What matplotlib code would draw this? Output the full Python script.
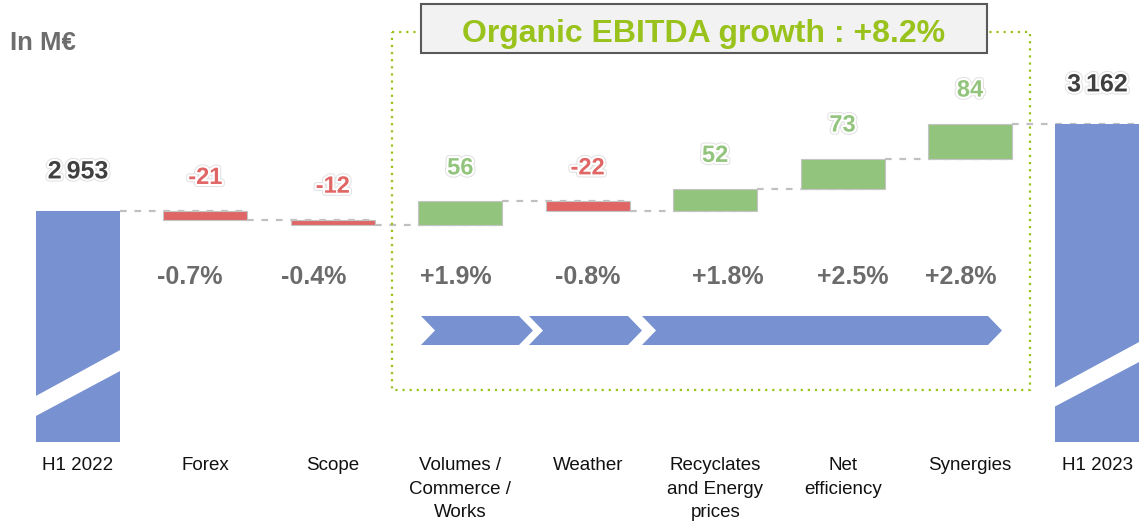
import matplotlib
matplotlib.use("Agg")
import matplotlib.pyplot as plt
import matplotlib.patheffects as pe
from matplotlib.patches import Polygon, Rectangle
from matplotlib.transforms import Affine2D

# data
categories = ["H1 2022", "Forex", "Scope", "Volumes /\nCommerce /\nWorks", "Weather",
              "Recyclates\nand Energy\nprices", "Net\nefficiency", "Synergies", "H1 2023"]
start_total = 2953
deltas = [-21, -12, 56, -22, 52, 73, 84]
end_total = 3162
total_labels = ["2\u2009953", "3\u2009162"]
pct_labels = ["-0.7%", "-0.4%", "+1.9%", "-0.8%", "+1.8%", "+2.5%", "+2.8%"]
title = "Organic EBITDA growth : +8.2%"
unit = "In M\u20ac"

# style
BLUE = "#7891d0"
RED = "#e06666"
GREEN = "#93c47d"
LIME = "#99c31c"
W, H = 1139, 522
FONT = "Liberation Sans"

fig = plt.figure(figsize=(W / 100, H / 100), dpi=100)
ax = fig.add_axes([0, 0, 1, 1])
ax.set_xlim(-0.612, 8.326)
ax.set_ylim(2206, 3460)
ax.axis("off")

# image-pixel transform (y down)
pxT = Affine2D().scale(1 / W, -1 / H).translate(0, 1) + fig.transFigure

base = 2398
bw = 0.66
glow = [pe.Stroke(linewidth=4.5, foreground="#e2e2e2"),
        pe.Stroke(linewidth=3, foreground="white"), pe.Normal()]

# running totals
levels = [start_total]
for d in deltas:
    levels.append(levels[-1] + d)

# total bars
for i, v in [(0, start_total), (8, end_total)]:
    ax.bar(i, v - base, bottom=base, width=bw, color=BLUE, zorder=3)
for i, v in zip([0, 8], [start_total, end_total]):
    lab = total_labels[0] if i == 0 else total_labels[1]
    ax.annotate(lab, xy=(i, v), xytext=(0, 23.5), textcoords="offset points",
                ha="center", va="baseline", fontsize=18, fontweight="bold",
                color="#404040", family=FONT, path_effects=glow, zorder=6)

# delta bars
for k, d in enumerate(deltas):
    i = k + 1
    lo = min(levels[k], levels[k + 1])
    col = GREEN if d > 0 else RED
    ax.bar(i, abs(d), bottom=lo, width=bw, color=col, edgecolor="#c4c4c4",
           linewidth=0.8, zorder=3)
    top = max(levels[k], levels[k + 1])
    ax.annotate(f"{d:d}", xy=(i, top), xytext=(0, 19.5), textcoords="offset points",
                ha="center", va="baseline", fontsize=17, fontweight="bold",
                color=col, family=FONT, path_effects=glow, zorder=6)

# connectors
for k in range(len(levels)):
    ax.plot([k + bw / 2, k + 1 + bw / 2], [levels[k], levels[k]], color="#c0c0c0",
            lw=1.6, linestyle=(0, (3, 3.5)), zorder=2)

# percentage labels (hand placed nudges in px)
pct_dx = [-16, -19, -5, 0, 13, 10, -9]
for k, p in enumerate(pct_labels):
    xpx = 78 + 127.44 * (k + 1) + pct_dx[k]
    fig.text(xpx, 284, p, transform=pxT, ha="center", va="baseline", fontsize=18,
             fontweight="bold", color="#6b6b6b", family=FONT)

# category labels
for i, c in enumerate(categories):
    xpx = 78 + 127.44 * i
    for j, line in enumerate(c.split("\n")):
        fig.text(xpx, 470 + 23.5 * j, line, transform=pxT, ha="center", va="baseline",
                 fontsize=13.5, color="#111111", family=FONT)

# axis break bands
for poly in ([(34, 397), (34, 417), (122, 370), (122, 349)],
             [(1054, 388), (1054, 407), (1141, 361), (1141, 341)]):
    fig.patches.append(Polygon(poly, closed=True, transform=pxT, facecolor="white",
                               edgecolor="none", zorder=4))

# organic box
fig.patches.append(Rectangle((392, 32), 638, 358, transform=pxT, fill=False,
                             edgecolor=LIME, lw=1.6, linestyle=(0, (1, 2.2)), zorder=2))
fig.patches.append(Rectangle((421, 4), 566, 49, transform=pxT, facecolor="#f2f2f2",
                             edgecolor="#595959", lw=1.5, zorder=3))
fig.text(704, 42, title, transform=pxT, ha="center", va="baseline", fontsize=23,
         fontweight="bold", color=LIME, family=FONT, zorder=5)

# chevrons
def chevron(x0, x1, notch=True, y0=316, y1=345, d=14):
    ym = (y0 + y1) / 2
    pts = [(x0, y0), (x1, y0), (x1 + d, ym), (x1, y1), (x0, y1)]
    if notch:
        pts.append((x0 + d, ym))
    return Polygon(pts, closed=True, transform=pxT, facecolor=BLUE, edgecolor="none", zorder=3)

for x0, x1 in [(421, 519), (529, 628), (642, 988)]:
    fig.patches.append(chevron(x0, x1))

fig.text(10, 50, unit, transform=pxT, ha="left", va="baseline", fontsize=18.5,
         fontweight="bold", color="#6d6d6d", family=FONT)

fig.savefig("out.png", dpi=100, facecolor="white")
